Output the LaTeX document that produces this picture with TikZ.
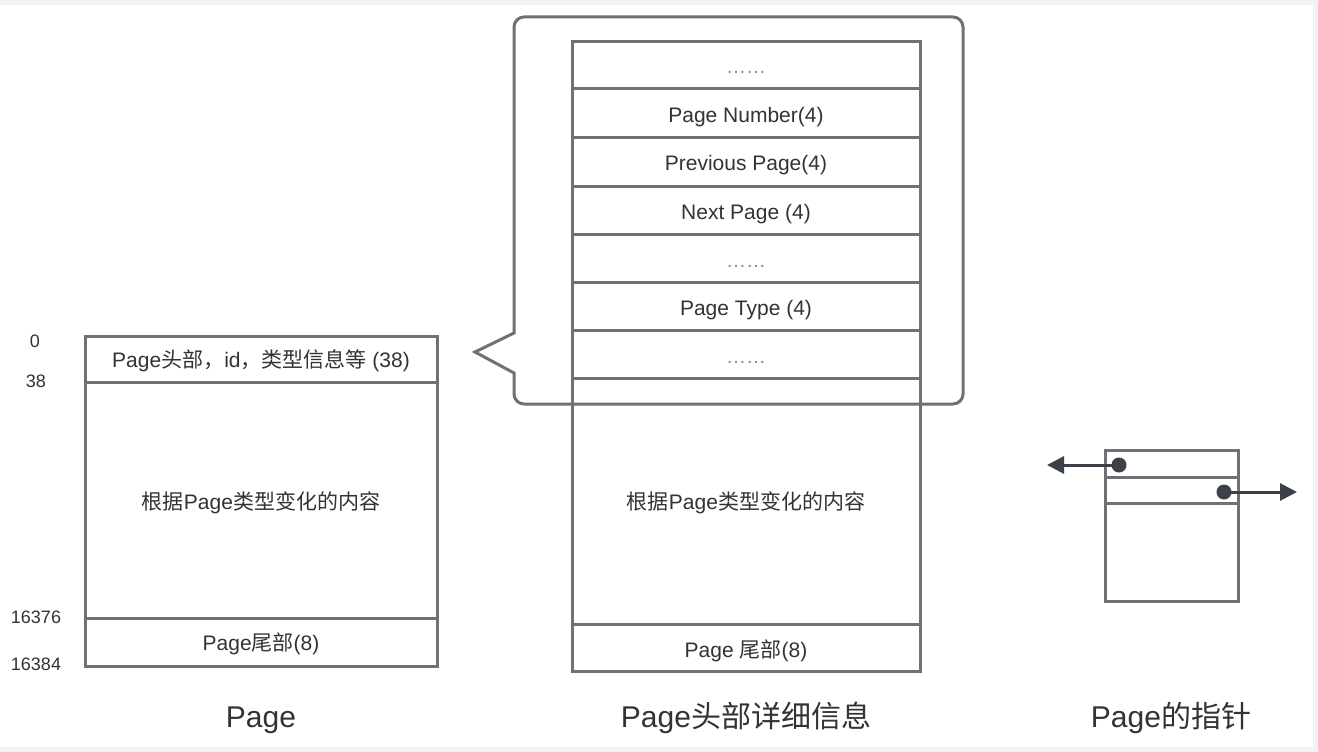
\documentclass[tikz,border=0pt]{standalone}
\usepackage{fontspec}
\setmainfont{Liberation Sans}
\newfontfamily\cjk{Noto Sans CJK SC}
\newcommand{\zh}[1]{{\cjk #1}}
\usetikzlibrary{arrows.meta}
\definecolor{linegray}{HTML}{707075}
\definecolor{darkc}{HTML}{3C4047}
\definecolor{textc}{HTML}{333333}
\definecolor{framec}{HTML}{F2F2F2}
\begin{document}
\begin{tikzpicture}[x=1pt,y=-1pt,
  box/.style={draw=linegray,line width=3pt},
  rowtxt/.style={anchor=base,text=textc,inner sep=0pt,font=\fontsize{21}{25}\selectfont},
  dots/.style={anchor=base,text=linegray!80,inner sep=0pt,font=\fontsize{20}{24}\selectfont},
  numtxt/.style={anchor=base,text=textc,inner sep=0pt,font=\fontsize{18}{22}\selectfont},
  captxt/.style={anchor=base,text=textc,inner sep=0pt,font=\fontsize{30}{36}\selectfont},
  pdot/.style={circle,fill=darkc,minimum size=15pt,inner sep=0pt},
  parrow/.style={draw=darkc,line width=3pt,-{Triangle[length=17pt,width=17pt]}}]
\useasboundingbox (0,0) rectangle (1318,752);
\fill[white] (0,0) rectangle (1318,752);
\draw[framec,line width=5pt] (0,2.5) -- (1315.5,2.5) -- (1315.5,749.5) -- (0,749.5);

% ---------- left: Page ----------
\draw[box] (85,336) rectangle (437,666);
\draw[box] (85,382) -- (437,382);
\draw[box] (85,618) -- (437,618);
\node[rowtxt] (lhead) at (261,367) {Page\zh{头部，}id\zh{，类型信息等} (38)};
\node[rowtxt] (lbody) at (261,509) {\zh{根据}Page\zh{类型变化的内容}};
\node[rowtxt] (ltail) at (261,650) {Page\zh{尾部}(8)};
\node[numtxt] (n0) at (35,347) {0};
\node[numtxt] (n38) at (36,387) {38};
\node[numtxt] (n16376) at (36,623) {16376};
\node[numtxt] (n16384) at (36,670) {16384};
\node[captxt] (cap1) at (261,727) {Page};

% ---------- callout ----------
\draw[box,line join=miter] (514,333) -- (514,27)
  .. controls (514,21.48) and (518.48,17) .. (524,17) -- (953,17)
  .. controls (958.52,17) and (963,21.48) .. (963,27) -- (963,394)
  .. controls (963,399.52) and (958.52,404) .. (953,404) -- (524,404)
  .. controls (518.48,404) and (514,399.52) .. (514,394) -- (514,373)
  -- (475,352) -- cycle;

% ---------- middle: header detail ----------
\draw[box] (572,42) rectangle (920,671);
\foreach \yy in {89,137,186,234,282,330,378,624}
  \draw[box] (572,\yy) -- (920,\yy);
\node[dots] (r1) at (746,74) {……};
\node[rowtxt] (r2) at (746,122) {Page Number(4)};
\node[rowtxt] (r3) at (746,170) {Previous Page(4)};
\node[rowtxt] (r4) at (746,219) {Next Page (4)};
\node[dots] (r5) at (746,267) {……};
\node[rowtxt] (r6) at (746,315) {Page Type (4)};
\node[dots] (r7) at (746,363) {……};
\node[rowtxt] (mbody) at (746,509) {\zh{根据}Page\zh{类型变化的内容}};
\node[rowtxt] (mtail) at (746,657) {Page \zh{尾部}(8)};
\node[captxt] (cap2) at (746,727) {Page\zh{头部详细信息}};

% ---------- right: page pointers ----------
\draw[box] (1105,450) rectangle (1238,601);
\draw[box] (1105,477) -- (1238,477);
\draw[box] (1105,503) -- (1238,503);
\coordinate (lend) at (1047,465);
\coordinate (rend) at (1297,492);
\node[pdot] (p1) at (1119,465) {};
\node[pdot] (p2) at (1224,492) {};
\draw[parrow] (p1.center) -- (lend);
\draw[parrow] (p2.center) -- (rend);
\node[captxt] (cap3) at (1171,727) {Page\zh{的指针}};
\end{tikzpicture}
\end{document}
